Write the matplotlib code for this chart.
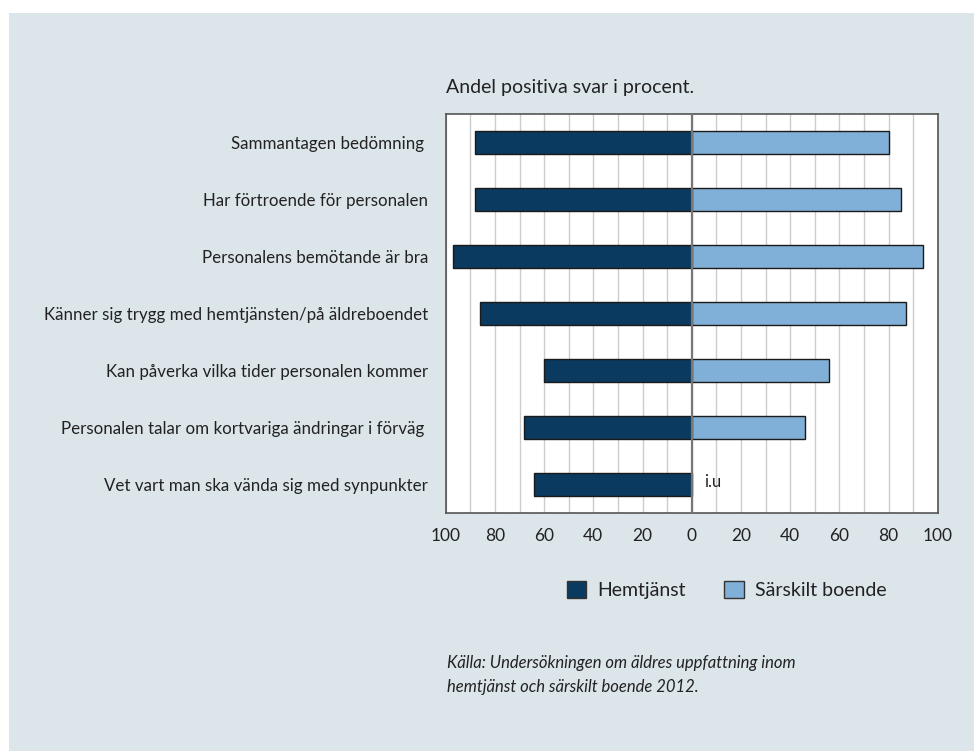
import matplotlib
matplotlib.use("Agg")
import matplotlib.pyplot as plt
from matplotlib.patches import Rectangle, Patch
from matplotlib.ticker import MultipleLocator, FixedLocator

plt.rcParams['font.family'] = ['Lato', 'DejaVu Sans']

categories = [
    "Sammantagen bedömning ",
    "Har förtroende för personalen",
    "Personalens bemötande är bra",
    "Känner sig trygg med hemtjänsten/på äldreboendet",
    "Kan påverka vilka tider personalen kommer",
    "Personalen talar om kortvariga ändringar i förväg ",
    "Vet vart man ska vända sig med synpunkter",
]
hemtjanst = [88, 88, 97, 86, 60, 68, 64]
sarskilt = [80, 85, 94, 87, 56, 46, None]
series_names = ["Hemtjänst", "Särskilt boende"]
tick_values = [-100, -80, -60, -40, -20, 0, 20, 40, 60, 80, 100]
tick_labels = ["100", "80", "60", "40", "20", "0", "20", "40", "60", "80", "100"]
title = "Andel positiva svar i procent."
source = "Källa: Undersökningen om äldres uppfattning inom\nhemtjänst och särskilt boende 2012."
na_label = "i.u"

dark = "#0a3a60"
light = "#80b0d8"
bg = "#dbe5ea"
text_color = "#222222"

fig = plt.figure(figsize=(9.74, 7.51), dpi=100)
fig.patch.set_facecolor("white")
fig.add_artist(Rectangle((9/974, 0), 1, 1 - 13/751, transform=fig.transFigure,
                         facecolor=bg, edgecolor="none", zorder=-10))

ax = fig.add_axes([445.7/974, 1 - 513/751, 492/974, 399/751])
ax.set_facecolor("white")

y = list(range(len(categories)))
h = 0.41
ax.barh(y, [-v for v in hemtjanst], height=h, color=dark, edgecolor="#1a1a1a",
        linewidth=1.0, zorder=3)
for yi, v in zip(y, sarskilt):
    if v is None:
        ax.text(8.5, yi - 0.05, na_label, ha="center", va="center", fontsize=12, color=text_color)
    else:
        ax.barh(yi, v, height=h, color=light, edgecolor="#1a1a1a", linewidth=1.0, zorder=3)

ax.set_xlim(-100, 100)
ax.set_ylim(len(categories) - 0.5, -0.5)
ax.xaxis.set_major_locator(FixedLocator(tick_values))
ax.set_xticklabels(tick_labels, fontsize=12.5, color=text_color)
ax.xaxis.set_minor_locator(MultipleLocator(10))
ax.grid(axis="x", which="both", color="#cccccc", linewidth=1.0, zorder=0)
ax.axvline(0, color="#777777", linewidth=1.6, zorder=4)
ax.set_yticks(y)
ax.set_yticklabels(categories, fontsize=12.2, color=text_color)
ax.tick_params(axis="both", which="both", length=0)
ax.tick_params(axis="x", pad=11)
ax.tick_params(axis="y", pad=12.5)
for s in ax.spines.values():
    s.set_color("#555555")
    s.set_linewidth(1.2)

fig.text(446/974, 1 - 88/751, title, ha="left", va="center", fontsize=14, color=text_color)

handles = [Patch(facecolor=dark, edgecolor="#333333", label=series_names[0]),
           Patch(facecolor=light, edgecolor="#333333", label=series_names[1])]
fig.legend(handles=handles, loc="center", bbox_to_anchor=(726.5/974, 1 - 590/751), ncol=2,
           frameon=False, fontsize=14, handlelength=1.0, handleheight=1.0,
           columnspacing=2.0, handletextpad=0.55, labelcolor=text_color)

fig.text(447/974, 1 - 675/751, source, ha="left", va="center", fontsize=12,
         style="italic", color=text_color, linespacing=1.55)

fig.savefig("out.png", dpi=100, facecolor=fig.get_facecolor())
